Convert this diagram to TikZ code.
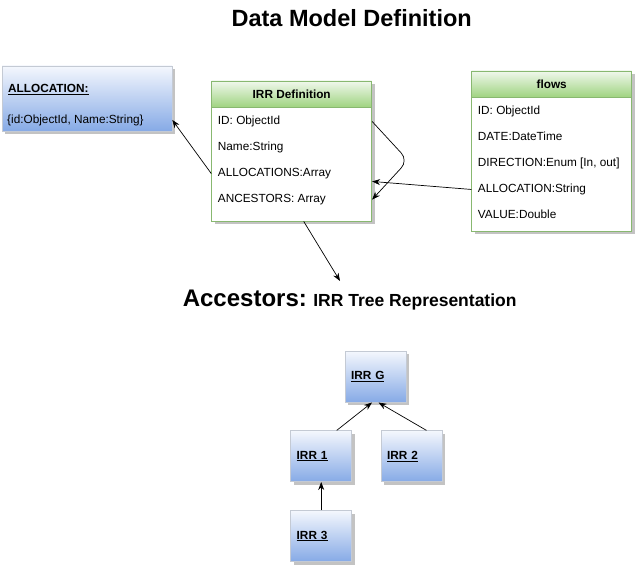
\documentclass[tikz,border=0pt]{standalone}
\usepackage{fontspec}
\setmainfont{Liberation Sans}
\usetikzlibrary{arrows.meta,shadows,calc}

\definecolor{glosstop}{HTML}{F4F7FD}
\definecolor{glossmid}{HTML}{B2CAF0}
\definecolor{glossbot}{HTML}{86AAE6}
\definecolor{glossline}{HTML}{C4CAD4}
\definecolor{headtop}{HTML}{F0F8EC}
\definecolor{headbot}{HTML}{9ED37F}
\definecolor{tableline}{HTML}{88B870}
\definecolor{shadowgray}{HTML}{B4B4B4}

\newcommand\rowsize{\fontsize{11.8}{14}\selectfont}

\tikzset{
  boxshadow/.style={drop shadow={shadow xshift=3pt, shadow yshift=-3pt, fill=shadowgray, opacity=0.8}},
  gloss/.style={rectangle, draw=glossline, line width=0.6pt, top color=glosstop, middle color=glossmid, bottom color=glossbot, boxshadow},
  treebox/.style={gloss, minimum width=61pt, minimum height=51pt, text width=49pt, inner xsep=6pt, align=left, font=\rowsize\bfseries},
  tablebox/.style={rectangle, draw=tableline, line width=0.8pt, fill=white, minimum width=160pt, boxshadow},
  tablehead/.style={rectangle, draw=tableline, line width=0.8pt, top color=headtop, bottom color=headbot, minimum width=160pt, minimum height=26.5pt, anchor=north, font=\rowsize\bfseries},
  row/.style={anchor=base west, inner sep=0pt, font=\rowsize},
  link/.style={draw, line width=0.7pt, -{Stealth[length=8pt,width=6pt]}}
}

\begin{document}
\begin{tikzpicture}[x=1pt,y=-1pt]
\useasboundingbox (0,0) rectangle (636,567);

% title
\node[anchor=base, font=\fontsize{23.5}{28}\selectfont\bfseries] (title) at (351.7,26.7) {Data Model Definition};

% allocation box
\node[gloss, minimum width=170pt, minimum height=65pt] (alloc) at (87,98.5) {};
\node[row, font=\rowsize\bfseries] (allochead) at (8,92.3) {\underline{ALLOCATION:}};
\node[row] (allocrow) at (7,123) {\{id:ObjectId, Name:String\}};

% irr definition table
\node[tablebox, minimum height=140pt] (irrdef) at (291.7,151) {};
\node[tablehead] (irrhead) at (irrdef.north) {IRR Definition};
\node[row] (irrid) at (217.7,124.5) {ID: ObjectId};
\node[row] (irrname) at (217.7,150.5) {Name:String};
\node[row] (irrallocs) at (217.7,176.5) {ALLOCATIONS:Array};
\node[row] (irranc) at (217.7,202.5) {ANCESTORS: Array};

% flows table
\node[tablebox, minimum height=160pt] (flows) at (551.7,151) {};
\node[tablehead] (flowshead) at (flows.north) {flows};
\node[row] (flowsid) at (477.7,114.5) {ID: ObjectId};
\node[row] (flowsdate) at (477.7,140.5) {DATE:DateTime};
\node[row] (flowsdir) at (477.7,166.5) {DIRECTION:Enum [In, out]};
\node[row] (flowsalloc) at (477.7,192.5) {ALLOCATION:String};
\node[row] (flowsvalue) at (477.7,218.5) {VALUE:Double};

% connectors of the model
\draw[link] (irrdef.west |- irrallocs.west) -- (alloc.east |- allocrow.west);
\draw[link, rounded corners=10pt] (irrdef.east |- irrid.west) -- ++(36,39) -- (irrdef.east |- irranc.west);
\draw[link] (flows.west |- flowsalloc.west) -- ([yshift=8pt]irrdef.east |- flowsalloc.west);
\coordinate (ancend) at (340,281);
\draw[link] ([xshift=12pt]irrdef.south) -- (ancend);

% tree heading
\node[anchor=base, font=\bfseries] (treetitle) at (349.7,306.7) {{\fontsize{24}{28}\selectfont Accestors:}{\fontsize{17.5}{20}\selectfont{} IRR Tree Representation}};

% tree
\node[treebox] (irrg) at (375.5,376.7) {\underline{IRR G}};
\node[treebox] (irr1) at (321.2,456.2) {\underline{IRR 1}};
\node[treebox] (irr2) at (411.5,456.2) {\underline{IRR 2}};
\node[treebox] (irr3) at (321.2,536) {\underline{IRR 3}};

\draw[link] ([xshift=15.5pt]irr1.north) -- ([xshift=-3.5pt]irrg.south);
\draw[link] ([xshift=15pt]irr2.north) -- ([xshift=3pt]irrg.south);
\draw[link] (irr3) -- (irr1);

\end{tikzpicture}
\end{document}
